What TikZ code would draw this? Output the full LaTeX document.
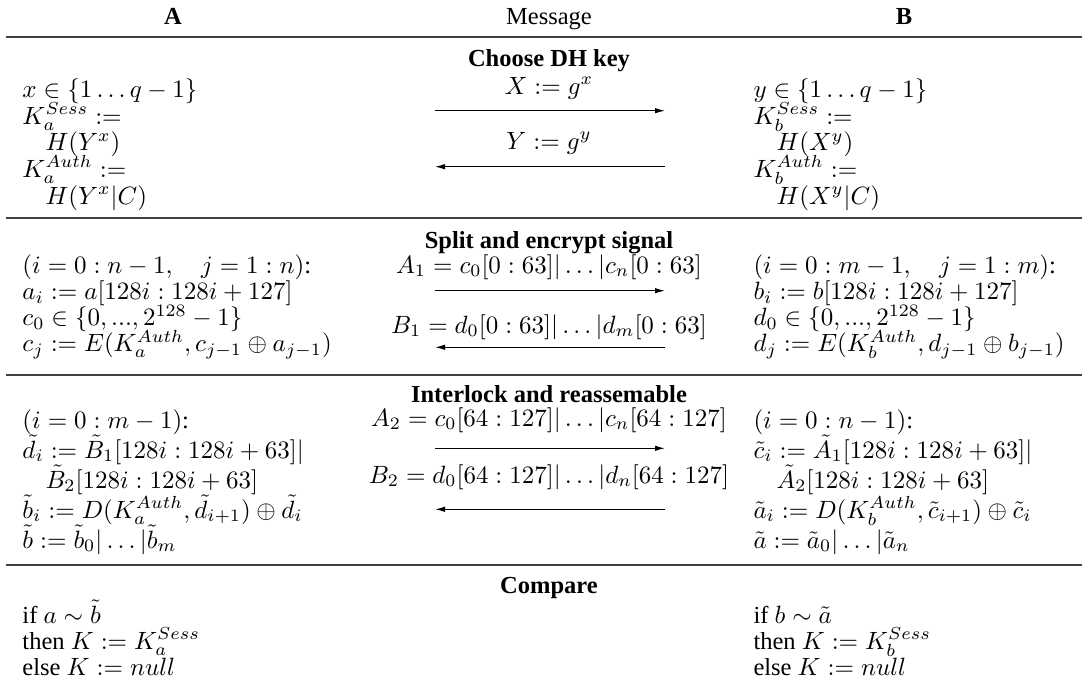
\documentclass[tikz,border=0pt]{standalone}
\usepackage[no-math]{fontspec}
\setmainfont{Liberation Serif}
\usetikzlibrary{arrows.meta}

\begin{document}
\begin{tikzpicture}[x=0.4pt, y=-0.4pt, font=\fontsize{9.8}{12}\selectfont,
  rulebar/.style={line width=0.8pt, black!75},
  msg/.style={line width=0.45pt, -{Latex[length=4pt,width=2.2pt]}},
  lft/.style={anchor=base west, inner sep=0pt},
  mid/.style={anchor=base, inner sep=0pt},
  ttl/.style={anchor=base, inner sep=0pt, font=\fontsize{9.8}{12}\selectfont\bfseries}]
  \useasboundingbox (0,0) rectangle (1082,688);
  % header
  \node[ttl] (hA) at (173,24) {A};
  \node[mid] (hM) at (549,24) {Message};
  \node[ttl] (hB) at (904,24) {B};
  \draw[rulebar] (6,37) -- (1082,37);
  % choose DH key
  \node[ttl] (t1) at (549,66) {Choose DH key};
  \node[lft] (a11) at (22,97.5) {$x \in \{1 \ldots q-1\}$};
  \node[lft] (a12) at (22,124) {$K_a^{Sess} :=$};
  \node[lft] (a13) at (45,150.5) {$H(Y^x)$};
  \node[lft] (a14) at (22,177) {$K_a^{Auth} :=$};
  \node[lft] (a15) at (45,204) {$H(Y^x|C)$};
  \node[lft] (b11) at (753,97.5) {$y \in \{1 \ldots q-1\}$};
  \node[lft] (b12) at (753,124) {$K_b^{Sess} :=$};
  \node[lft] (b13) at (776,150.5) {$H(X^y)$};
  \node[lft] (b14) at (753,177) {$K_b^{Auth} :=$};
  \node[lft] (b15) at (776,204) {$H(X^y|C)$};
  \node[mid] (m11) at (549,94) {$X := g^x$};
  \node[mid] (m12) at (549,149) {$Y := g^y$};
  \coordinate (p1l) at (435,110.7);
  \coordinate (p1r) at (665,110.7);
  \coordinate (q1l) at (435,166.7);
  \coordinate (q1r) at (665,166.7);
  \draw[msg] (p1l) -- (p1r);
  \draw[msg] (q1r) -- (q1l);
  \draw[rulebar] (6,218) -- (1082,218);
  % split and encrypt
  \node[ttl] (t2) at (549,248) {Split and encrypt signal};
  \node[lft] (a21) at (22,273.5) {$(i = 0 : n-1, \quad j = 1 : n)$:};
  \node[lft] (a22) at (22,299.5) {$a_i := a[128i : 128i+127]$};
  \node[lft] (a23) at (22,325.5) {$c_0 \in \{0, ..., 2^{128}-1\}$};
  \node[lft] (a24) at (22,351.5) {$c_j := E(K_a^{Auth}, c_{j-1} \oplus a_{j-1})$};
  \node[lft] (b21) at (753,273.5) {$(i = 0 : m-1, \quad j = 1 : m)$:};
  \node[lft] (b22) at (753,299.5) {$b_i := b[128i : 128i+127]$};
  \node[lft] (b23) at (753,325.5) {$d_0 \in \{0, ..., 2^{128}-1\}$};
  \node[lft] (b24) at (753,351.5) {$d_j := E(K_b^{Auth}, d_{j-1} \oplus b_{j-1})$};
  \node[mid] (m21) at (549,273) {$A_1 = c_0[0:63]|\ldots|c_n[0:63]$};
  \node[mid] (m22) at (549,333) {$B_1 = d_0[0:63]|\ldots|d_m[0:63]$};
  \coordinate (p2l) at (435,290.7);
  \coordinate (p2r) at (665,290.7);
  \coordinate (q2l) at (435,347.3);
  \coordinate (q2r) at (665,347.3);
  \draw[msg] (p2l) -- (p2r);
  \draw[msg] (q2r) -- (q2l);
  \draw[rulebar] (6,375) -- (1082,375);
  % interlock
  \node[ttl] (t3) at (549,402) {Interlock and reassemable};
  \node[lft] (a31) at (22,428) {$(i = 0 : m-1)$:};
  \node[lft] (a32) at (22,458) {$\tilde{d}_i := \tilde{B}_1[128i : 128i+63]|$};
  \node[lft] (a33) at (45,488) {$\tilde{B}_2[128i : 128i+63]$};
  \node[lft] (a34) at (22,518) {$\tilde{b}_i := D(K_a^{Auth}, \tilde{d}_{i+1}) \oplus \tilde{d}_i$};
  \node[lft] (a35) at (22,548) {$\tilde{b} := \tilde{b}_0|\ldots|\tilde{b}_m$};
  \node[lft] (b31) at (753,428) {$(i = 0 : n-1)$:};
  \node[lft] (b32) at (753,458) {$\tilde{c}_i := \tilde{A}_1[128i : 128i+63]|$};
  \node[lft] (b33) at (776,488) {$\tilde{A}_2[128i : 128i+63]$};
  \node[lft] (b34) at (753,518) {$\tilde{a}_i := D(K_b^{Auth}, \tilde{c}_{i+1}) \oplus \tilde{c}_i$};
  \node[lft] (b35) at (753,548) {$\tilde{a} := \tilde{a}_0|\ldots|\tilde{a}_n$};
  \node[mid] (m31) at (549,426) {$A_2 = c_0[64:127]|\ldots|c_n[64:127]$};
  \node[mid] (m32) at (549,483) {$B_2 = d_0[64:127]|\ldots|d_n[64:127]$};
  \coordinate (p3l) at (435,448.3);
  \coordinate (p3r) at (665,448.3);
  \coordinate (q3l) at (435,509.3);
  \coordinate (q3r) at (665,509.3);
  \draw[msg] (p3l) -- (p3r);
  \draw[msg] (q3r) -- (q3l);
  \draw[rulebar] (6,565) -- (1082,565);
  % compare
  \node[ttl] (t4) at (549,593) {Compare};
  \node[lft] (a41) at (22,623) {if $a \sim \tilde{b}$};
  \node[lft] (a42) at (22,649) {then $K := K_a^{Sess}$};
  \node[lft] (a43) at (22,675) {else $K := null$};
  \node[lft] (b41) at (753,623) {if $b \sim \tilde{a}$};
  \node[lft] (b42) at (753,649) {then $K := K_b^{Sess}$};
  \node[lft] (b43) at (753,675) {else $K := null$};
\end{tikzpicture}
\end{document}
